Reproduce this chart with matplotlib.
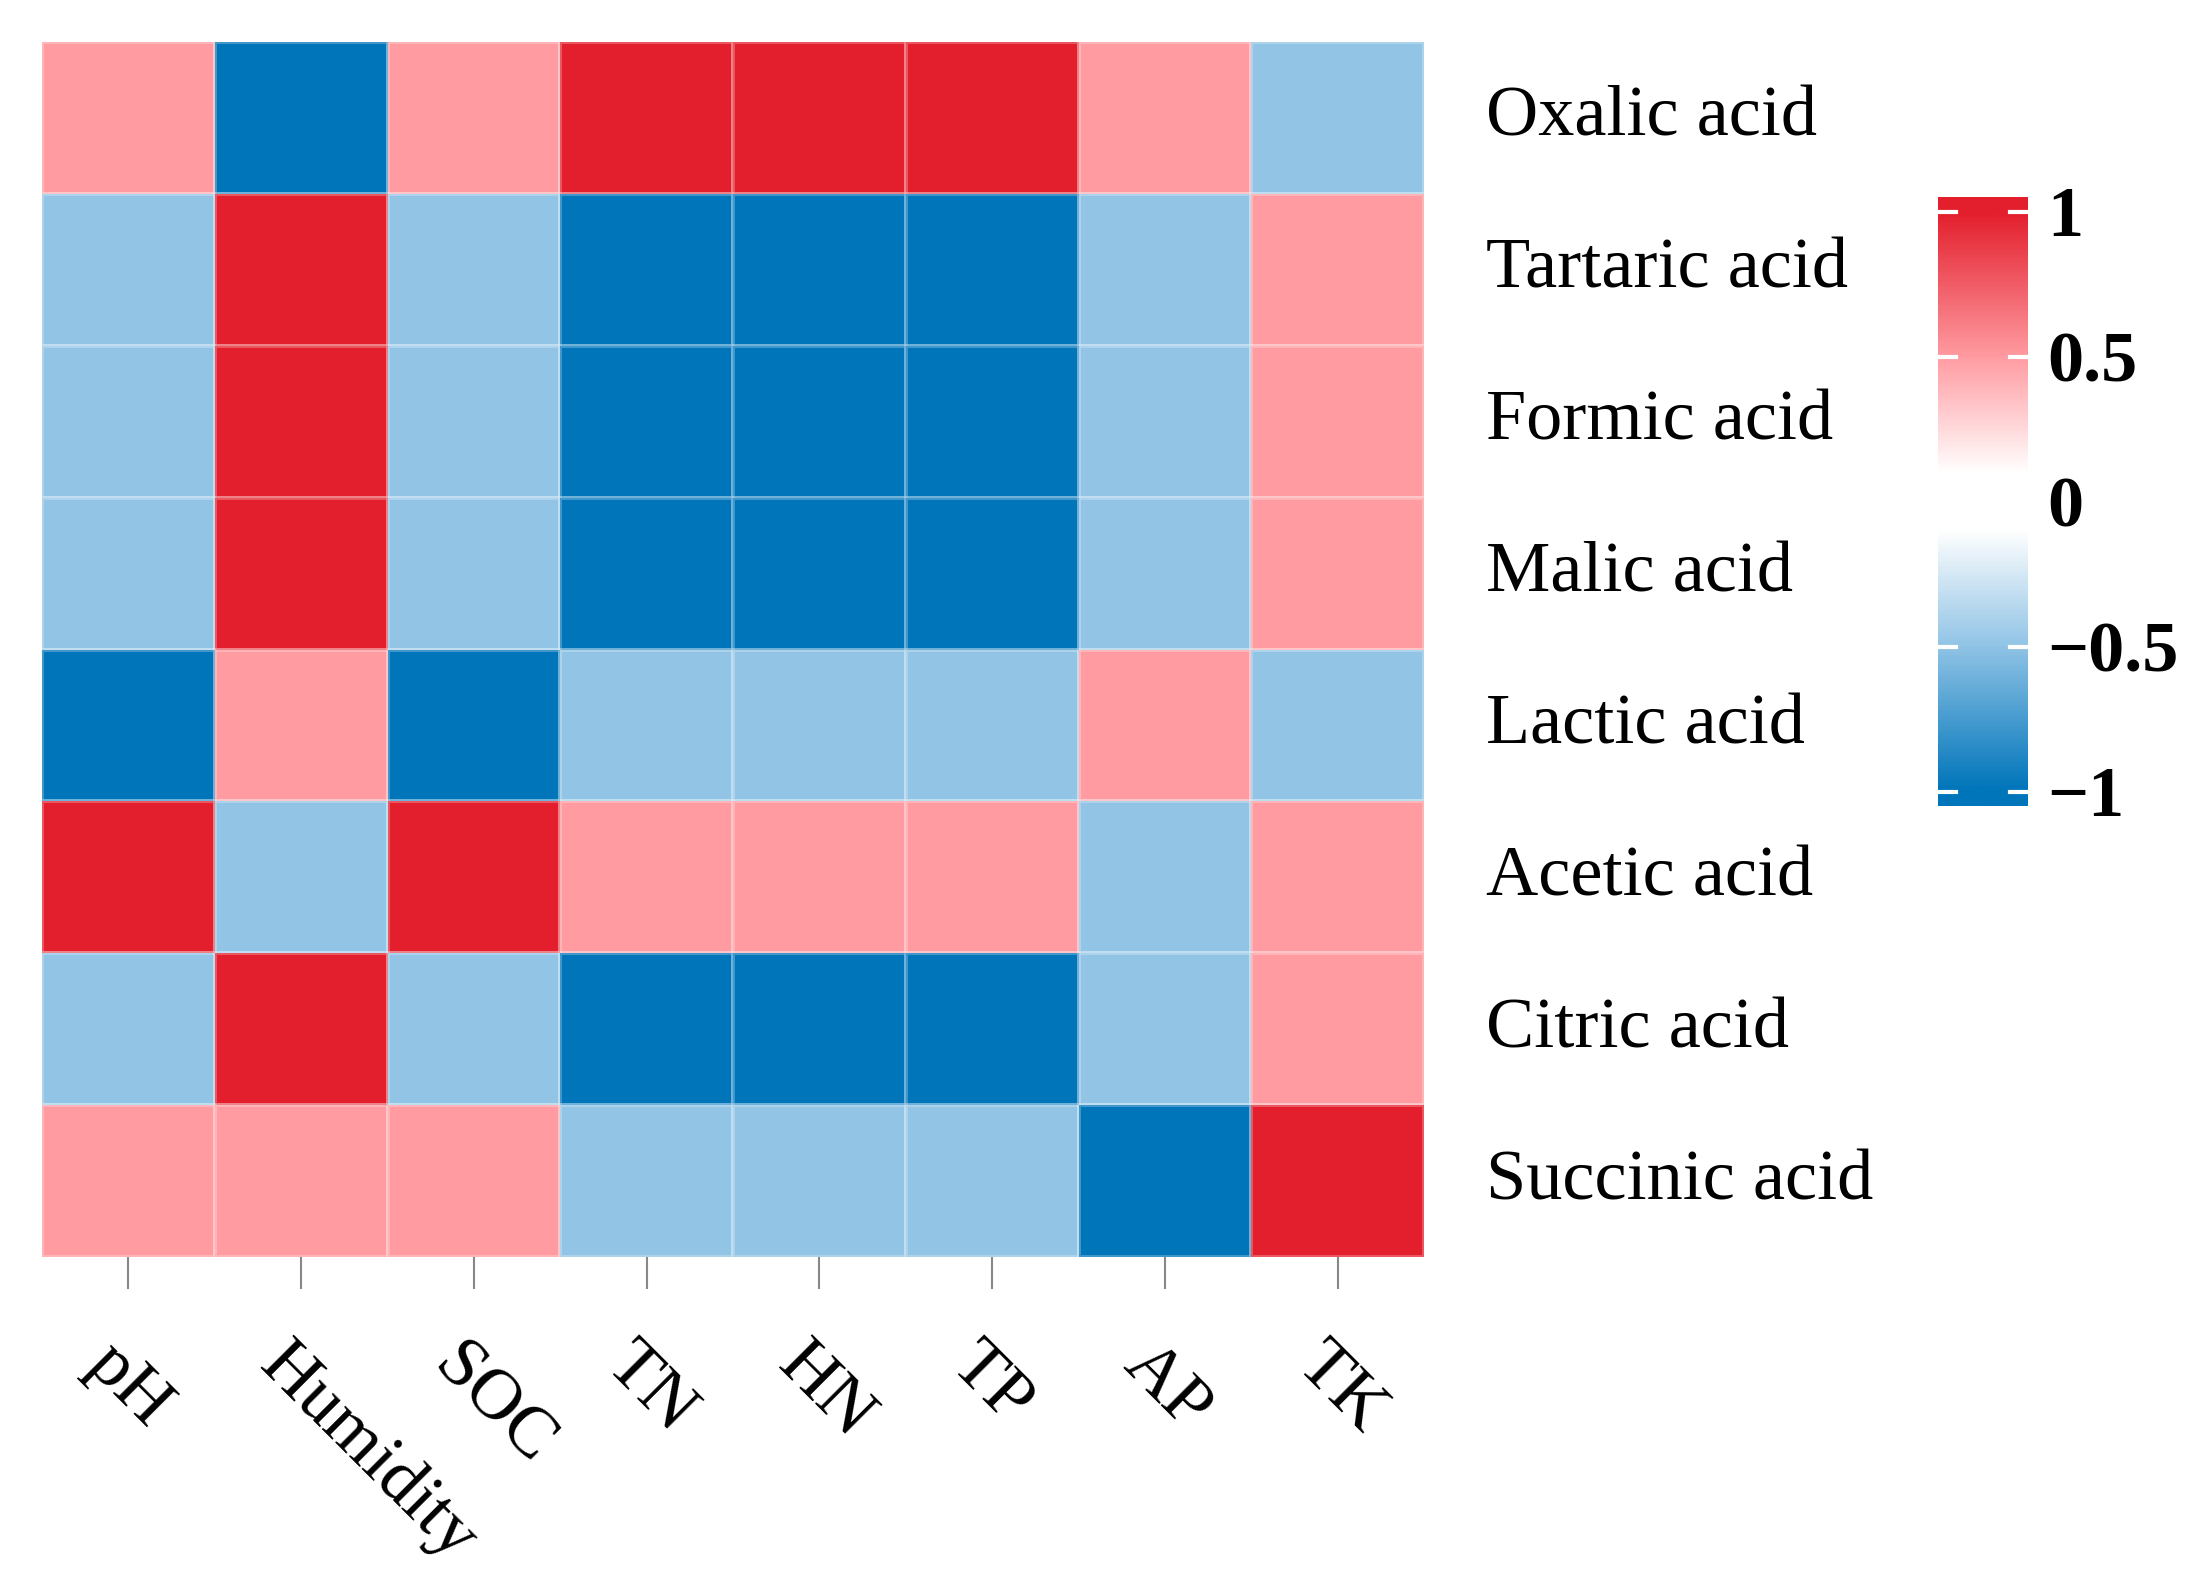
import matplotlib
matplotlib.use('Agg')
import matplotlib.pyplot as plt
from matplotlib.colors import LinearSegmentedColormap, Normalize
from matplotlib.transforms import ScaledTranslation
import numpy as np

plt.rcParams['font.family'] = ['Liberation Serif', 'DejaVu Serif']

acids = ['Oxalic acid', 'Tartaric acid', 'Formic acid', 'Malic acid',
         'Lactic acid', 'Acetic acid', 'Citric acid', 'Succinic acid']
factors = ['pH', 'Humidity', 'SOC', 'TN', 'HN', 'TP', 'AP', 'TK']

oxalic = [0.5, -1, 0.5, 1, 1, 1, 0.5, -0.5]
tartaric = [-0.5, 1, -0.5, -1, -1, -1, -0.5, 0.5]
formic = [-0.5, 1, -0.5, -1, -1, -1, -0.5, 0.5]
malic = [-0.5, 1, -0.5, -1, -1, -1, -0.5, 0.5]
lactic = [-1, 0.5, -1, -0.5, -0.5, -0.5, 0.5, -0.5]
acetic = [1, -0.5, 1, 0.5, 0.5, 0.5, -0.5, 0.5]
citric = [-0.5, 1, -0.5, -1, -1, -1, -0.5, 0.5]
succinic = [0.5, 0.5, 0.5, -0.5, -0.5, -0.5, -1, 1]

cbar_ticks = [-1, -0.5, 0, 0.5, 1]
cbar_labels = ['\u22121', '\u22120.5', '0', '0.5', '1']

data = np.array([oxalic, tartaric, formic, malic, lactic, acetic, citric, succinic])

cmap = LinearSegmentedColormap.from_list('rb', [
    (0.0, '#0075BA'), (0.25, '#91C4E6'), (0.45, '#FFFFFF'),
    (0.55, '#FFFFFF'), (0.75, '#FF9CA2'), (1.0, '#E31F2D')])
norm = Normalize(-1, 1, clip=True)

W, H = 2189, 1586
fig = plt.figure(figsize=(W / 100, H / 100), dpi=100)
ax = fig.add_axes([42 / W, 1 - 1257 / H, 1382 / W, 1215 / H])

ax.pcolormesh(data, cmap=cmap, norm=norm, edgecolors=(1, 1, 1, 0.25), linewidth=1.5)
ax.set_xlim(0, 8)
ax.set_ylim(8, 0)
for s in ax.spines.values():
    s.set_visible(False)

ax.set_xticks(np.arange(8) + 0.5)
ax.set_xticklabels(factors, fontsize=52)
ax.tick_params(axis='x', length=23, width=1.5, color='#888888', pad=31)
shift_x = ScaledTranslation(-8 / 100, 0, fig.dpi_scale_trans)
for lab in ax.get_xticklabels():
    lab.set_rotation(-45)
    lab.set_ha('left')
    lab.set_va('top')
    lab.set_rotation_mode('anchor')
    lab.set_transform(lab.get_transform() + shift_x)

ax.yaxis.tick_right()
ax.set_yticks(np.arange(8) + 0.5)
ax.set_yticklabels(acids, fontsize=52)
ax.tick_params(axis='y', length=0, pad=45)
shift_y = ScaledTranslation(0, 7 / 100, fig.dpi_scale_trans)
for lab in ax.get_yticklabels():
    lab.set_transform(lab.get_transform() + shift_y)

# colour bar
lim = 1.05
cax = fig.add_axes([1938 / W, 1 - 806 / H, 90 / W, 609 / H])
grad = np.linspace(-lim, lim, 400).reshape(-1, 1)
cax.imshow(grad, cmap=cmap, norm=norm, aspect='auto', origin='lower',
           extent=[0, 1, -lim, lim])
cax.set_xlim(0, 1)
cax.set_ylim(-lim, lim)
for s in cax.spines.values():
    s.set_visible(False)
cax.set_xticks([])
for t in cbar_ticks:
    cax.plot([0, 0.2], [t, t], color='white', lw=3)
    cax.plot([0.8, 1], [t, t], color='white', lw=3)
cax.yaxis.tick_right()
cax.set_yticks(cbar_ticks)
cax.set_yticklabels(cbar_labels, fontsize=52, fontweight='bold')
cax.tick_params(axis='y', length=0, pad=14)

fig.savefig('out.png', dpi=100, facecolor='white')
